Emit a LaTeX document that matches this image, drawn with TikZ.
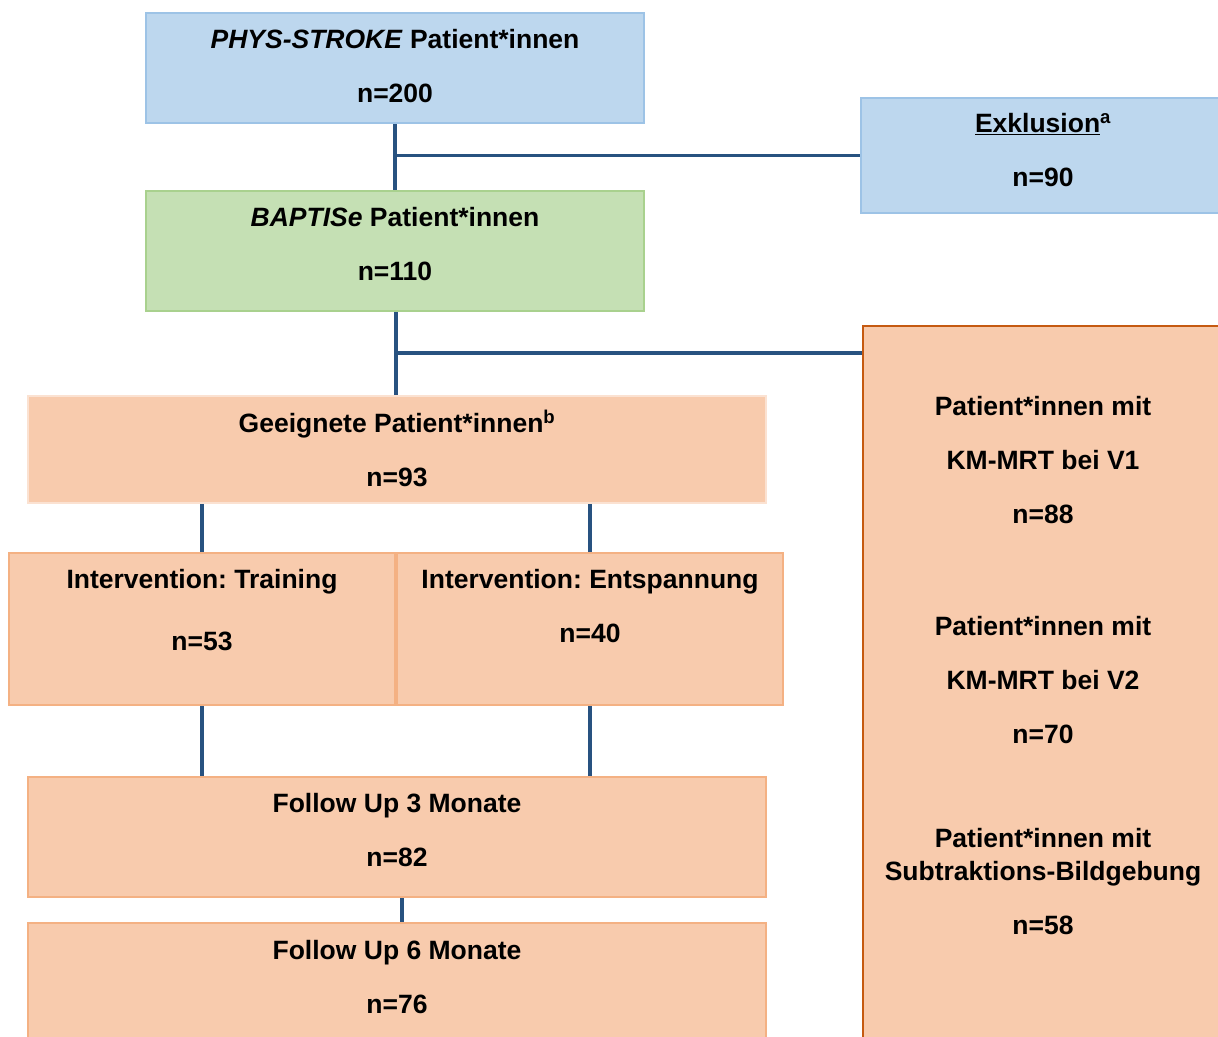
\documentclass[tikz,border=0pt]{standalone}
\usepackage{fontspec}
\setmainfont{Liberation Sans}
\usepackage{tikz}
\usetikzlibrary{positioning}
\definecolor{boxblue}{RGB}{189,215,238}
\definecolor{rimblue}{RGB}{157,195,230}
\definecolor{boxgreen}{RGB}{197,224,180}
\definecolor{rimgreen}{RGB}{169,209,142}
\definecolor{boxorange}{RGB}{248,203,173}
\definecolor{rimorange}{RGB}{244,177,131}
\definecolor{rimpale}{RGB}{251,226,210}
\definecolor{rimdark}{RGB}{197,90,17}
\definecolor{connblue}{RGB}{40,82,128}
\frenchspacing

\begin{document}
\begin{tikzpicture}[x=1pt,y=-1pt,line join=miter,
  box/.style={rectangle,line width=2pt,inner sep=0pt,anchor=north west},
  bluebox/.style={box,fill=boxblue,draw=rimblue},
  greenbox/.style={box,fill=boxgreen,draw=rimgreen},
  orangebox/.style={box,fill=boxorange,draw=rimorange},
  txt/.style={inner sep=0pt,align=center,anchor=north,font=\bfseries\fontsize{26.5pt}{54pt}\selectfont},
  conn/.style={draw=connblue,line width=3.5pt}]
\useasboundingbox (0,0) rectangle (1218,1036);
\clip (0,0) rectangle (1218,1036);
% boxes
\node[bluebox,minimum width=364pt,minimum height=115pt] (exkl) at (860,97) {};
\node[bluebox,minimum width=498pt,minimum height=110pt] (phys) at (145,12) {};
\node[greenbox,minimum width=498pt,minimum height=120pt] (baptise) at (145,190) {};
\node[orangebox,draw=rimdark,minimum width=362pt,minimum height=730pt] (mrt) at (862,325) {};
\node[orangebox,draw=rimpale,minimum width=738pt,minimum height=107pt] (geeignet) at (27,395) {};
\node[orangebox,minimum width=386pt,minimum height=152pt] (training) at (8,552) {};
\node[orangebox,minimum width=386pt,minimum height=152pt] (entsp) at (396,552) {};
\node[orangebox,minimum width=738pt,minimum height=120pt] (fu3) at (27,776) {};
\node[orangebox,minimum width=738pt,minimum height=125pt] (fu6) at (27,922) {};
% texts
\node[txt] (physT) at ([yshift=-17pt]phys.north) {\textit{PHYS-STROKE} Patient*innen\\n=200};
\node[txt] (exklT) at ([yshift=-16pt]exkl.north) {\underline{Exklusion}\smash{\textsuperscript{a}}\\n=90};
\node[txt] (baptiseT) at ([yshift=-17pt]baptise.north) {\textit{BAPTISe} Patient*innen\\n=110};
\node[txt] (geeignetT) at ([yshift=-18pt]geeignet.north) {Geeignete Patient*innen\smash{\textsuperscript{b}}\\n=93};
\node[txt] (trainingT) at ([yshift=-17pt]training.north) {Intervention: Training\\[8pt]n=53};
\node[txt] (entspT) at ([yshift=-17pt]entsp.north) {Intervention: Entspannung\\n=40};
\node[txt] (fu3T) at ([yshift=-17pt]fu3.north) {Follow Up 3 Monate\\n=82};
\node[txt] (fu6T) at ([yshift=-18pt]fu6.north) {Follow Up 6 Monate\\n=76};
\node[txt] (mrtA) at (1043,396) {Patient*innen mit\\KM-MRT bei V1\\n=88};
\node[txt] (mrtB) at (1043,616) {Patient*innen mit\\KM-MRT bei V2\\n=70};
\node[txt] (mrtC) at (1043,828) {Patient*innen mit\\[-21pt]Subtraktions-Bildgebung\\n=58};
% connectors
\draw[conn] (phys.south) -- (baptise.north);
\draw[conn] (phys.south |- exkl.west) -- (exkl.west);
\coordinate (j2) at (396,353);
\draw[conn] (baptise.south -| j2) -- (geeignet.north -| j2);
\draw[conn] (j2) -- (j2 -| mrt.west);
\draw[conn] (training.north) -- (training.north |- geeignet.south);
\draw[conn] (entsp.north) -- (entsp.north |- geeignet.south);
\draw[conn] (training.south) -- (training.south |- fu3.north);
\draw[conn] (entsp.south) -- (entsp.south |- fu3.north);
\draw[conn] ([xshift=5pt]fu3.south) -- ([xshift=5pt]fu6.north);
\end{tikzpicture}
\end{document}
